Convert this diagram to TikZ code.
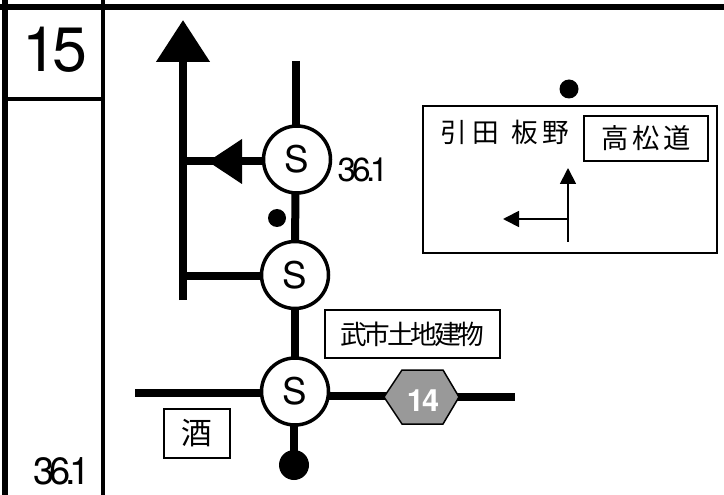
\documentclass[tikz,border=0pt]{standalone}
\usepackage{fontspec}
\usetikzlibrary{arrows.meta,shapes.geometric,backgrounds}
\setmainfont{TeX Gyre Heros}
\newfontfamily\cjk{Noto Sans CJK JP}
\newfontfamily\tightnum[LetterSpace=-8]{TeX Gyre Heros}
\newfontfamily\tightbold[LetterSpace=-6,BoldFont={}]{TeX Gyre Heros Bold}
\newfontfamily\tightcjk[LetterSpace=-12]{Noto Sans CJK JP}
\newcommand{\fs}[1]{\fontsize{#1}{#1}\selectfont}
\newcommand{\tightdist}{3\kern-.12em 6\kern-.14em .\kern-.16em 1}
\tikzset{
  frameline/.style={line width=4.5*0.75pt,black},
  road/.style={line width=8*0.75pt,black},
  signal/.style={circle,draw=black,fill=white,line width=3.5*0.75pt,minimum size=67*0.75pt,inner sep=0pt,font=\fs{27.5}},
  label/.style={draw=black,fill=white,line width=1.5*0.75pt,inner sep=0pt},
  plain/.style={inner sep=0pt,outer sep=0pt},
  thin road/.style={line width=1.8*0.75pt,black},
  dot/.style={circle,fill=black,inner sep=0pt},
}
\begin{document}
\begin{tikzpicture}[x=0.75pt,y=-0.75pt]
\useasboundingbox (0,0) rectangle (724,495);
% frame
\draw[line width=6*0.75pt] (4.5,0) -- (4.5,495);
\draw[frameline] (103,0) -- (103,495);
\draw[line width=6*0.75pt] (0,7) -- (724,7);
\draw[line width=3.5*0.75pt] (4.5,99) -- (103,99);
\node[plain,font=\fs{47}\tightnum] (num) at (55,50) {15};
\node[plain,font=\fs{28.5}] (dist) at (62,471.5) {\tightdist};
% signals
\node[signal] (s1) at (297,159.5) {S};
\node[signal] (s2) at (295,275) {S};
\node[signal] (s3) at (295,391.5) {S};
\node[plain,font=\fs{25}] (d2) at (363,170) {\tightdist};
% hexagon
\node[plain,minimum width=75*0.75pt,minimum height=54*0.75pt] (hexa) at (421.5,397) {};
% bottom and small dots
\node[dot,minimum size=30*0.75pt] (bd) at (294,465) {};
\node[dot,minimum size=18*0.75pt] (sd) at (277,218) {};
% coordinates
\coordinate (trunkB) at (183,300);
\coordinate (trunkT) at (183,20);
\coordinate (j1) at (183,161.5);
\coordinate (j2) at (183,276);
\coordinate (tipL) at (208,161.5);
\coordinate (n1) at (296,61);
\coordinate (w3) at (135,393);
\coordinate (e3) at (515,397);
\coordinate (hw) at (390,396);
\coordinate (he) at (455,397);
\begin{scope}[on background layer]
\fill[white] (0,0) rectangle (724,495);
\draw[road] (j2) -- (s2.center |- j2);
\draw[road] (j1) -- (s1.center |- j1);
\draw[road,-{Triangle[length=31.5pt,width=39pt]}] (trunkB) -- (trunkT);
\draw[road] (n1) -- (n1 |- s1.center);
\draw[road] (s1.center) ++(-1.5,0) -- (s2.center);
\draw[road] (s2.center) -- (s3.center);
\draw[road] (w3) -- (s3.center |- w3);
\draw[road] (s3.center |- hw) -- (hw);
\draw[road] (he) -- (e3);
\draw[road] (s3.center) ++(-1,0) -- (bd.center);
\end{scope}
\fill[black] (tipL) -- (242,139) -- (242,184) -- cycle;
\draw[black,fill=black!40,line width=1.5*0.75pt] (384,397) -- (402,370) -- (443,370) -- (459,397) -- (443,424) -- (402,424) -- cycle;
\node[plain,text=white,font=\fs{23}\tightbold] (rt) at (423,401) {14};
% labels
\node[label,minimum width=175*0.75pt,minimum height=48*0.75pt] (lb1) at (412.5,334) {\tightcjk\fs{20}武市土地建物};
\node[label,minimum width=66*0.75pt,minimum height=49*0.75pt] (lb2) at (197,433.5) {\cjk\fs{23}酒};
% direction box
\node[dot,minimum size=19*0.75pt] (td) at (569,89) {};
\node[draw=black,line width=2*0.75pt,minimum width=294*0.75pt,minimum height=147*0.75pt,plain] (dirbox) at (570,179.5) {};
\node[draw=black,line width=2*0.75pt,minimum width=124*0.75pt,minimum height=45*0.75pt,inner sep=0pt] (hw2) at (646,138.5) {\cjk\fs{20.5}高\kern3pt 松\kern3pt 道};
\node[plain] (place) at (505,132) {\cjk\fs{20}引\kern3.5pt 田\kern9.5pt 板\kern3.5pt 野};
\coordinate (vb) at (568,242);
\coordinate (vt) at (568,168);
\coordinate (hj) at (568,219);
\coordinate (ht) at (503,219);
\draw[thin road,-{Triangle[length=12pt,width=12pt]}] (vb) -- (vt);
\draw[thin road,-{Triangle[length=12pt,width=12pt]}] (hj) -- (ht);
\end{tikzpicture}
\end{document}
